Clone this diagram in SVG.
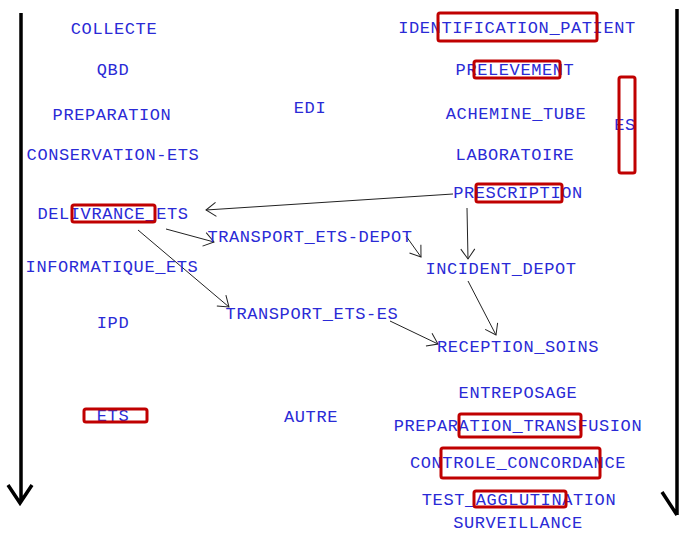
<svg xmlns="http://www.w3.org/2000/svg" width="680" height="533" viewBox="0 0 680 533">
<defs>
<style>
text{font-family:"Liberation Mono","DejaVu Sans Mono",monospace;font-size:17px;fill:#2a2ad6;text-anchor:middle;letter-spacing:0.6px}
.box{fill:none;stroke:#c00000;stroke-width:3}
.ax{fill:none;stroke:#000;stroke-width:3.5}
.c{fill:none;stroke:#222;stroke-width:1;marker-end:url(#ah)}
</style>
<marker id="ah" markerUnits="userSpaceOnUse" markerWidth="14" markerHeight="16" refX="11" refY="7" orient="auto" overflow="visible">
<path d="M1,0 L11,7 L1,14" fill="none" stroke="#222" stroke-width="1"/>
</marker>
</defs>
<rect width="680" height="533" fill="#fff"/>
<g id="axes">
<path class="ax" d="M21,13 V502 M8,485 L20,503 L32,485"/>
<path class="ax" d="M677,9 V515 M662,492 L677,515"/>
</g>
<g id="connectors">
<path class="c" d="M453,194 L206,210"/>
<path class="c" d="M166,229 L214,242"/>
<path class="c" d="M138,230 L229,307"/>
<path class="c" d="M406,236 L421,257"/>
<path class="c" d="M467,208 L468,259"/>
<path class="c" d="M468,281 L496,335"/>
<path class="c" d="M390,321 L438,344"/>
</g>
<g id="n-collecte"><text x="114" y="34">COLLECTE</text></g>
<g id="n-qbd"><text x="113" y="75">QBD</text></g>
<g id="n-preparation"><text x="112" y="120">PREPARATION</text></g>
<g id="n-edi"><text x="310" y="113">EDI</text></g>
<g id="n-conservation"><text x="113" y="160">CONSERVATION-ETS</text></g>
<g id="n-delivrance"><text x="113" y="219">DELIVRANCE_ETS</text><rect class="box" x="72" y="205" width="83" height="17" rx="2"/></g>
<g id="n-informatique"><text x="112" y="272">INFORMATIQUE_ETS</text></g>
<g id="n-ipd"><text x="113" y="328">IPD</text></g>
<g id="n-ets"><text x="113" y="421">ETS</text><rect class="box" x="84" y="409" width="63" height="13" rx="2"/></g>
<g id="n-autre"><text x="311" y="422">AUTRE</text></g>
<g id="n-transport-depot"><text x="310" y="242">TRANSPORT_ETS-DEPOT</text></g>
<g id="n-transport-es"><text x="312" y="319">TRANSPORT_ETS-ES</text></g>
<g id="n-identification"><text x="517" y="33">IDENTIFICATION_PATIENT</text><rect class="box" x="438" y="13" width="159" height="28" rx="2"/></g>
<g id="n-prelevement"><text x="515" y="75">PRELEVEMENT</text><rect class="box" x="474" y="61" width="86" height="17" rx="2"/></g>
<g id="n-achemine"><text x="516" y="119">ACHEMINE_TUBE</text></g>
<g id="n-es"><text x="625" y="130">ES</text><rect class="box" x="619" y="77" width="16" height="96" rx="2"/></g>
<g id="n-laboratoire"><text x="515" y="160">LABORATOIRE</text></g>
<g id="n-prescription"><text x="518" y="198">PRESCRIPTION</text><rect class="box" x="476" y="184" width="86" height="18" rx="2"/></g>
<g id="n-incident"><text x="501" y="274">INCIDENT_DEPOT</text></g>
<g id="n-reception"><text x="518" y="352">RECEPTION_SOINS</text></g>
<g id="n-entreposage"><text x="518" y="398">ENTREPOSAGE</text></g>
<g id="n-prep-transfusion"><text x="518" y="431">PREPARATION_TRANSFUSION</text><rect class="box" x="459" y="414" width="122" height="23" rx="2"/></g>
<g id="n-controle"><text x="518" y="468">CONTROLE_CONCORDANCE</text><rect class="box" x="441" y="448" width="159" height="30" rx="2"/></g>
<g id="n-test"><text x="519" y="505">TEST_AGGLUTINATION</text><rect class="box" x="474" y="491" width="92" height="16" rx="2"/></g>
<g id="n-surveillance"><text x="518" y="528">SURVEILLANCE</text></g>
</svg>
